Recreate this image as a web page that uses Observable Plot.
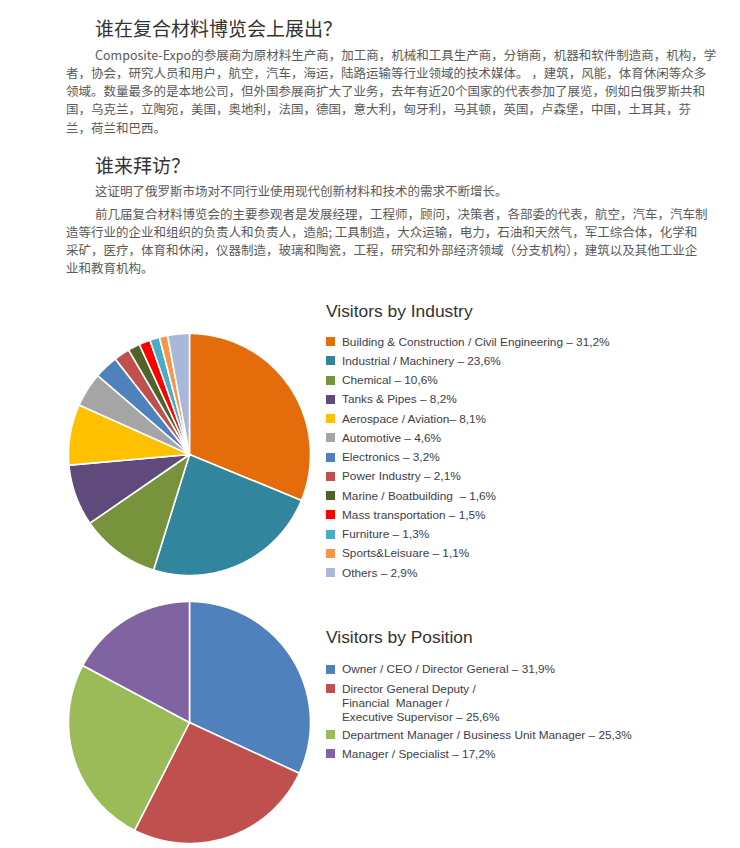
<!DOCTYPE html>
<html>
<head>
<meta charset="utf-8">
<script src="https://cdn.jsdelivr.net/npm/d3@7"></script>
<script src="https://cdn.jsdelivr.net/npm/@observablehq/plot@0.6"></script>
<style>
html,body{margin:0;padding:0;background:#fff;}
#page{position:relative;width:740px;height:848px;overflow:hidden;}
.h{position:absolute;left:95px;font-family:"Noto Sans CJK SC",sans-serif;font-size:19px;line-height:24px;color:#333;white-space:nowrap;}
.p{position:absolute;left:66px;font-family:"Noto Sans CJK SC",sans-serif;font-size:12.5px;line-height:18.33px;color:#5a5a5a;white-space:pre;}
.p div.first{text-indent:29px;}
.chart{position:absolute;left:64px;width:250px;height:250px;}
.lt{position:absolute;left:326px;font-family:"Liberation Sans",Arial,sans-serif;font-size:17.4px;line-height:20px;color:#333;white-space:nowrap;}
.li{position:absolute;left:326px;font-family:"Liberation Sans",Arial,sans-serif;font-size:11.8px;line-height:14px;color:#3d3d4a;white-space:pre;}
.sw{position:absolute;left:0;top:2.5px;width:9px;height:9px;}
.li .t{position:absolute;left:16px;top:0;}
</style>
</head>
<body>
<div id="page"></div>
<script>
// ---- text content ----
const heading1 = "谁在复合材料博览会上展出？";
const para1Lines = [
  "Composite-Expo的参展商为原材料生产商，加工商，机械和工具生产商，分销商，机器和软件制造商，机构，学",
  "者，协会，研究人员和用户，航空，汽车，海运，陆路运输等行业领域的技术媒体。 ，建筑，风能，体育休闲等众多",
  "领域。数量最多的是本地公司，但外国参展商扩大了业务，去年有近20个国家的代表参加了展览，例如白俄罗斯共和",
  "国，乌克兰，立陶宛，美国，奥地利，法国，德国，意大利，匈牙利，马其顿，英国，卢森堡，中国，土耳其，芬",
  "兰，荷兰和巴西。"
];
const heading2 = "谁来拜访？";
const para2Lines = [
  "这证明了俄罗斯市场对不同行业使用现代创新材料和技术的需求不断增长。"
];
const para3Lines = [
  "前几届复合材料博览会的主要参观者是发展经理，工程师，顾问，决策者，各部委的代表，航空，汽车，汽车制",
  "造等行业的企业和组织的负责人和负责人，造船; 工具制造，大众运输，电力，石油和天然气，军工综合体，化学和",
  "采矿，医疗，体育和休闲，仪器制造，玻璃和陶瓷，工程，研究和外部经济领域（分支机构），建筑以及其他工业企",
  "业和教育机构。"
];

// ---- chart data ----
const industryTitle = "Visitors by Industry";
const industryNames = [
  "Building & Construction / Civil Engineering ",
  "Industrial / Machinery ",
  "Chemical ",
  "Tanks & Pipes ",
  "Aerospace / Aviation",
  "Automotive ",
  "Electronics ",
  "Power Industry ",
  "Marine / Boatbuilding  ",
  "Mass transportation ",
  "Furniture ",
  "Sports&Leisuare ",
  "Others "
];
const industryValues = [31.2, 23.6, 10.6, 8.2, 8.1, 4.6, 3.2, 2.1, 1.6, 1.5, 1.3, 1.1, 2.9];
const industryColors = ["#E46C0A", "#31859C", "#77933C", "#604A7B", "#FFC000", "#A5A5A5", "#4F81BD",
  "#C0504D", "#4F6228", "#FF0000", "#4BACC6", "#F79646", "#A9B8DA"];

const positionTitle = "Visitors by Position";
const positionNames = [
  "Owner / CEO / Director General ",
  "Director General Deputy /\nFinancial  Manager /\nExecutive Supervisor ",
  "Department Manager / Business Unit Manager ",
  "Manager / Specialist "
];
const positionValues = [31.9, 25.6, 25.3, 17.2];
const positionColors = ["#4F81BD", "#C0504D", "#9BBB59", "#8064A2"];

// ---- layout ----
const page = document.getElementById("page");

function addHeading(text, top) {
  const d = document.createElement("div");
  d.className = "h"; d.style.top = top + "px"; d.textContent = text;
  page.appendChild(d);
}
function addPara(lines, top) {
  const d = document.createElement("div");
  d.className = "p"; d.style.top = top + "px";
  lines.forEach((l, i) => {
    const ln = document.createElement("div");
    if (i === 0) ln.className = "first";
    ln.textContent = l;
    d.appendChild(ln);
  });
  page.appendChild(d);
}
addHeading(heading1, 16);
addPara(para1Lines, 45.5);
addHeading(heading2, 153);
addPara(para2Lines, 181.5);
addPara(para3Lines, 204.5);

const fmt = v => v.toFixed(1).replace(".", ",") + "%";

function pieChart(values, colors, top) {
  const R = 121, H = 125;
  const arcs = d3.pie().sort(null).value(d => d)(values);
  const features = arcs.map((a, i) => {
    const n = Math.max(2, Math.ceil((a.endAngle - a.startAngle) / 0.01));
    const ring = [[0, 0]];
    for (let k = 0; k <= n; k++) {
      const t = a.startAngle + (a.endAngle - a.startAngle) * k / n;
      ring.push([R * Math.sin(t), -R * Math.cos(t)]);
    }
    ring.push([0, 0]);
    return {type: "Feature", properties: {color: colors[i]}, geometry: {type: "Polygon", coordinates: [ring]}};
  });
  const svg = Plot.plot({
    width: 250, height: 250, margin: 0,
    projection: {type: "identity", domain: {type: "Polygon", coordinates: [[[-H, -H], [H, -H], [H, H], [-H, H], [-H, -H]]]}},
    marks: [
      Plot.geo(features, {fill: d => d.properties.color, stroke: "#fff", strokeWidth: 1.6})
    ]
  });
  const wrap = document.createElement("div");
  wrap.className = "chart"; wrap.style.top = top + "px";
  wrap.appendChild(svg);
  page.appendChild(wrap);
}

function legend(title, names, values, colors, titleTop, firstTop, step, lineH) {
  const t = document.createElement("div");
  t.className = "lt"; t.style.top = titleTop + "px"; t.textContent = title;
  page.appendChild(t);
  let y = firstTop;
  names.forEach((nm, i) => {
    const row = document.createElement("div");
    row.className = "li"; row.style.top = y + "px";
    const sw = document.createElement("div");
    sw.className = "sw"; sw.style.background = colors[i];
    const tx = document.createElement("span");
    tx.className = "t"; tx.textContent = nm + "– " + fmt(values[i]);
    row.appendChild(sw); row.appendChild(tx);
    page.appendChild(row);
    const nLines = nm.split("\n").length;
    y += step + (nLines - 1) * lineH;
  });
}

pieChart(industryValues, industryColors, 329);
legend(industryTitle, industryNames, industryValues, industryColors, 301, 334.7, 19.25, 13.5);

pieChart(positionValues, positionColors, 597);
legend(positionTitle, positionNames, positionValues, positionColors, 627, 662.3, 19.2, 13.5);
</script>
</body>
</html>
